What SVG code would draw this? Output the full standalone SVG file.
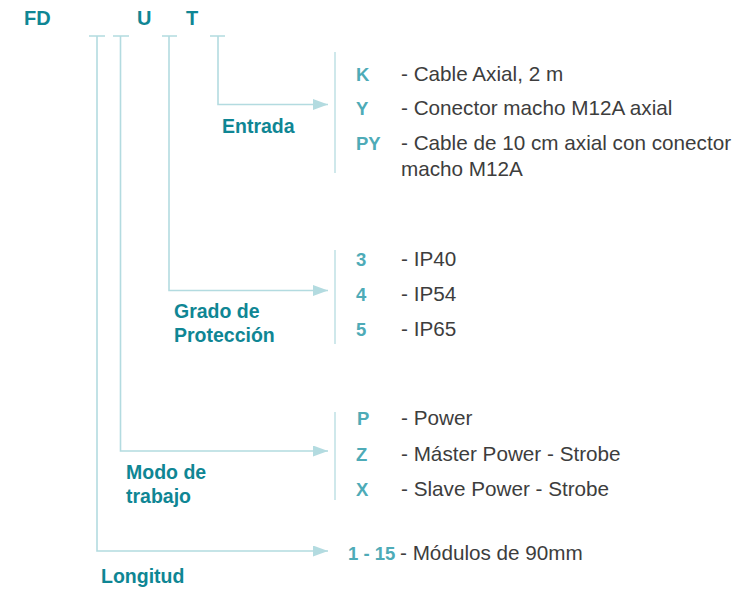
<svg xmlns="http://www.w3.org/2000/svg" width="756" height="591" viewBox="0 0 756 591">
<defs>
<marker id="arr" markerUnits="userSpaceOnUse" markerWidth="16" markerHeight="12" refX="15" refY="5.5" orient="auto">
<path d="M0,0 L15,5.5 L0,11 z" fill="#b3dbe0"/>
</marker>
<style>
.ln{fill:none;stroke:#b3dbe0;stroke-width:1.6}
.bar{fill:none;stroke:#c4e3e7;stroke-width:1.6}
.code{font-family:"Liberation Sans",Arial,sans-serif;font-weight:bold;font-size:20px;fill:#0f8694}
.hd{font-family:"Liberation Sans",Arial,sans-serif;font-weight:bold;font-size:19.5px;fill:#0f8694}
.key{font-family:"Liberation Sans",Arial,sans-serif;font-weight:bold;font-size:18.5px;fill:#4eabb7}
.ds{font-family:"Liberation Sans",Arial,sans-serif;font-size:20.7px;fill:#3d3d3d}
</style>
</defs>
<rect width="756" height="591" fill="#ffffff"/>
<g id="title">
<text class="code" x="24" y="25">FD</text>
<text class="code" x="137" y="25">U</text>
<text class="code" x="186" y="25">T</text>
</g>
<g id="connectors">
<path class="ln" d="M89,36 H105 M113,36 H129 M162,36 H177 M210,36 H225"/>
<path class="ln" d="M218,36 V104.5 H328" marker-end="url(#arr)"/>
<path class="ln" d="M169,36 V290.5 H328" marker-end="url(#arr)"/>
<path class="ln" d="M120.5,36 V451 H328" marker-end="url(#arr)"/>
<path class="ln" d="M97,36 V551 H328" marker-end="url(#arr)"/>
<path class="bar" d="M335,52 V173 M335,250 V344 M335,412 V500"/>
</g>
<g id="entrada">
<text class="hd" x="222" y="133">Entrada</text>
<text class="key" x="356" y="81">K</text>
<text class="ds" x="401" y="81">- Cable Axial, 2 m</text>
<text class="key" x="356" y="115">Y</text>
<text class="ds" x="401" y="115">- Conector macho M12A axial</text>
<text class="key" x="356" y="150">PY</text>
<text class="ds" x="401" y="150">- Cable de 10 cm axial con conector</text>
<text class="ds" x="401" y="176">macho M12A</text>
</g>
<g id="grado">
<text class="hd" x="174" y="318">Grado de</text>
<text class="hd" x="174" y="342">Protección</text>
<text class="key" x="356" y="266">3</text>
<text class="ds" x="401" y="266">- IP40</text>
<text class="key" x="356" y="301">4</text>
<text class="ds" x="401" y="301">- IP54</text>
<text class="key" x="356" y="336">5</text>
<text class="ds" x="401" y="336">- IP65</text>
</g>
<g id="modo">
<text class="hd" x="126" y="479">Modo de</text>
<text class="hd" x="126" y="503">trabajo</text>
<text class="key" x="357" y="425">P</text>
<text class="ds" x="401" y="425">- Power</text>
<text class="key" x="356" y="461">Z</text>
<text class="ds" x="401" y="461">- Máster Power - Strobe</text>
<text class="key" x="356" y="496">X</text>
<text class="ds" x="401" y="496">- Slave Power - Strobe</text>
</g>
<g id="longitud">
<text class="hd" x="101" y="583">Longitud</text>
<text class="key" x="348" y="560">1 - 15</text>
<text class="ds" x="400" y="560">- Módulos de 90mm</text>
</g>
</svg>
